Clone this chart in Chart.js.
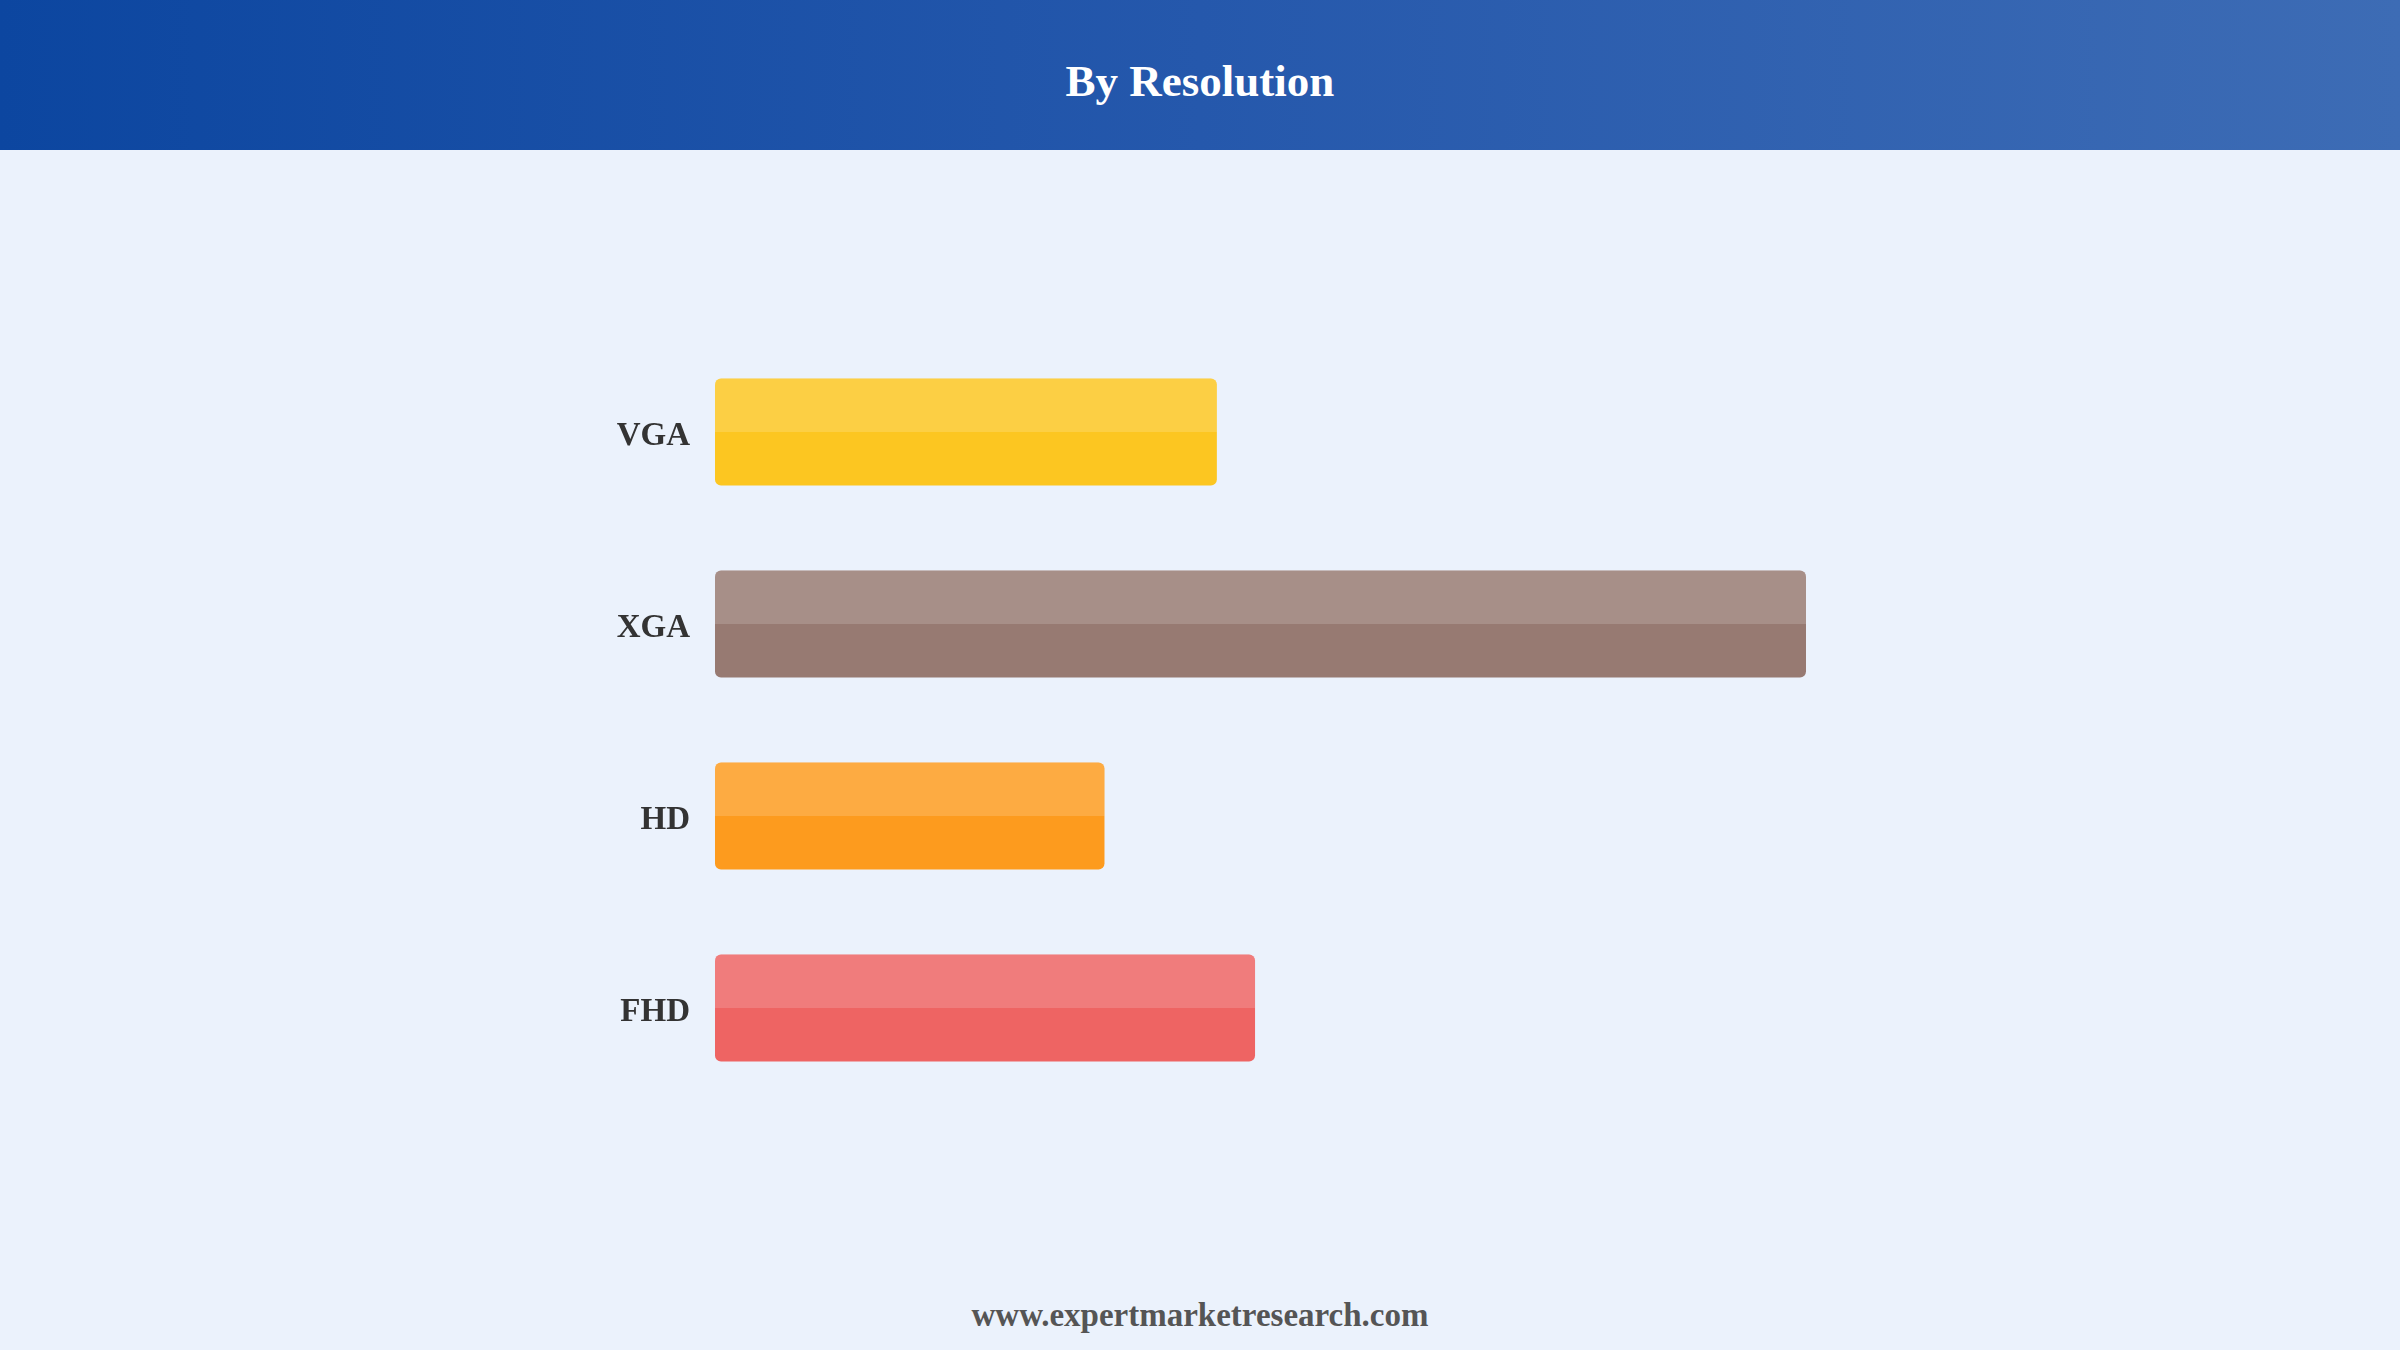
<!DOCTYPE html>
<html>
<head>
<meta charset="utf-8">
<title>By Resolution</title>
<script src="https://cdn.jsdelivr.net/npm/chart.js@4.4.1/dist/chart.umd.min.js"></script>
<style>
    html, body {
        margin: 0;
        padding: 0;
        width: 2400px;
        height: 1350px;
        overflow: hidden;
        background: #EBF2FC;
        font-family: "Liberation Serif", "Times New Roman", serif;
    }
    .header {
        position: absolute;
        left: 0; top: 0;
        width: 2400px; height: 150px;
        background: linear-gradient(to right, #0C46A0 0%, #2558AC 50%, #3D6CB5 100%);
    }
    .header h1 {
        margin: 0;
        line-height: 150px;
        text-align: center;
        color: #FFFFFF;
        font-size: 45px;
        font-weight: bold;
        position: relative;
        top: 6px;
    }
    .chart-box {
        position: absolute;
        left: 0; top: 150px;
        width: 2400px; height: 1100px;
    }
    .footer {
        position: absolute;
        left: 0; top: 1297px;
        width: 2400px;
        text-align: center;
        color: #555555;
        font-size: 33px;
        font-weight: bold;
    }
</style>
</head>
<body>
<div class="header"><h1>By Resolution</h1></div>
<div class="chart-box"><canvas id="resolutionChart"></canvas></div>
<div class="footer">www.expertmarketresearch.com</div>

<script>
    /* ===== dados ===== */
    const categorias = ["VGA", "XGA", "HD", "FHD"];
    const valores = [46.0, 100, 35.7, 49.5];
    const cores = ["#FCC621", "#977A72", "#FD9B1E", "#EE6463"];

    /* ===== brilho na metade superior de cada barra ===== */
    const brilhoBarras = {
        id: "brilhoBarras",
        afterDatasetDraw(chart, args) {
            const ctx = chart.ctx;
            args.meta.data.forEach(bar => {
                const { x, y, base, height } = bar.getProps(["x", "y", "base", "height"], true);
                const topo = y - height / 2;
                ctx.save();
                ctx.fillStyle = "rgba(255,255,255,0.16)";
                ctx.beginPath();
                ctx.roundRect(base, topo, x - base, height / 2, [6, 6, 0, 0]);
                ctx.fill();
                ctx.restore();
            });
        }
    };

    new Chart(document.getElementById("resolutionChart"), {
        type: "bar",
        data: {
            labels: categorias,
            datasets: [{
                data: valores,
                backgroundColor: cores,
                borderWidth: 0,
                borderRadius: 6,
                borderSkipped: false,
                barPercentage: 0.557,
                categoryPercentage: 1
            }]
        },
        options: {
            indexAxis: "y",
            responsive: true,
            maintainAspectRatio: false,
            animation: false,
            layout: { padding: { left: 0, right: 594, top: 186, bottom: 146 } },
            plugins: {
                legend: { display: false },
                tooltip: { enabled: false }
            },
            scales: {
                x: {
                    display: false,
                    min: 0,
                    max: 100
                },
                y: {
                    grid: { display: false, drawTicks: false },
                    border: { display: false },
                    afterFit: scale => { scale.width = 715; },
                    ticks: {
                        padding: 25,
                        labelOffset: 4,
                        color: "#333333",
                        font: { family: "'Liberation Serif', 'Times New Roman', serif", size: 33, weight: "bold" }
                    }
                }
            }
        },
        plugins: [brilhoBarras]
    });
</script>
</body>
</html>
